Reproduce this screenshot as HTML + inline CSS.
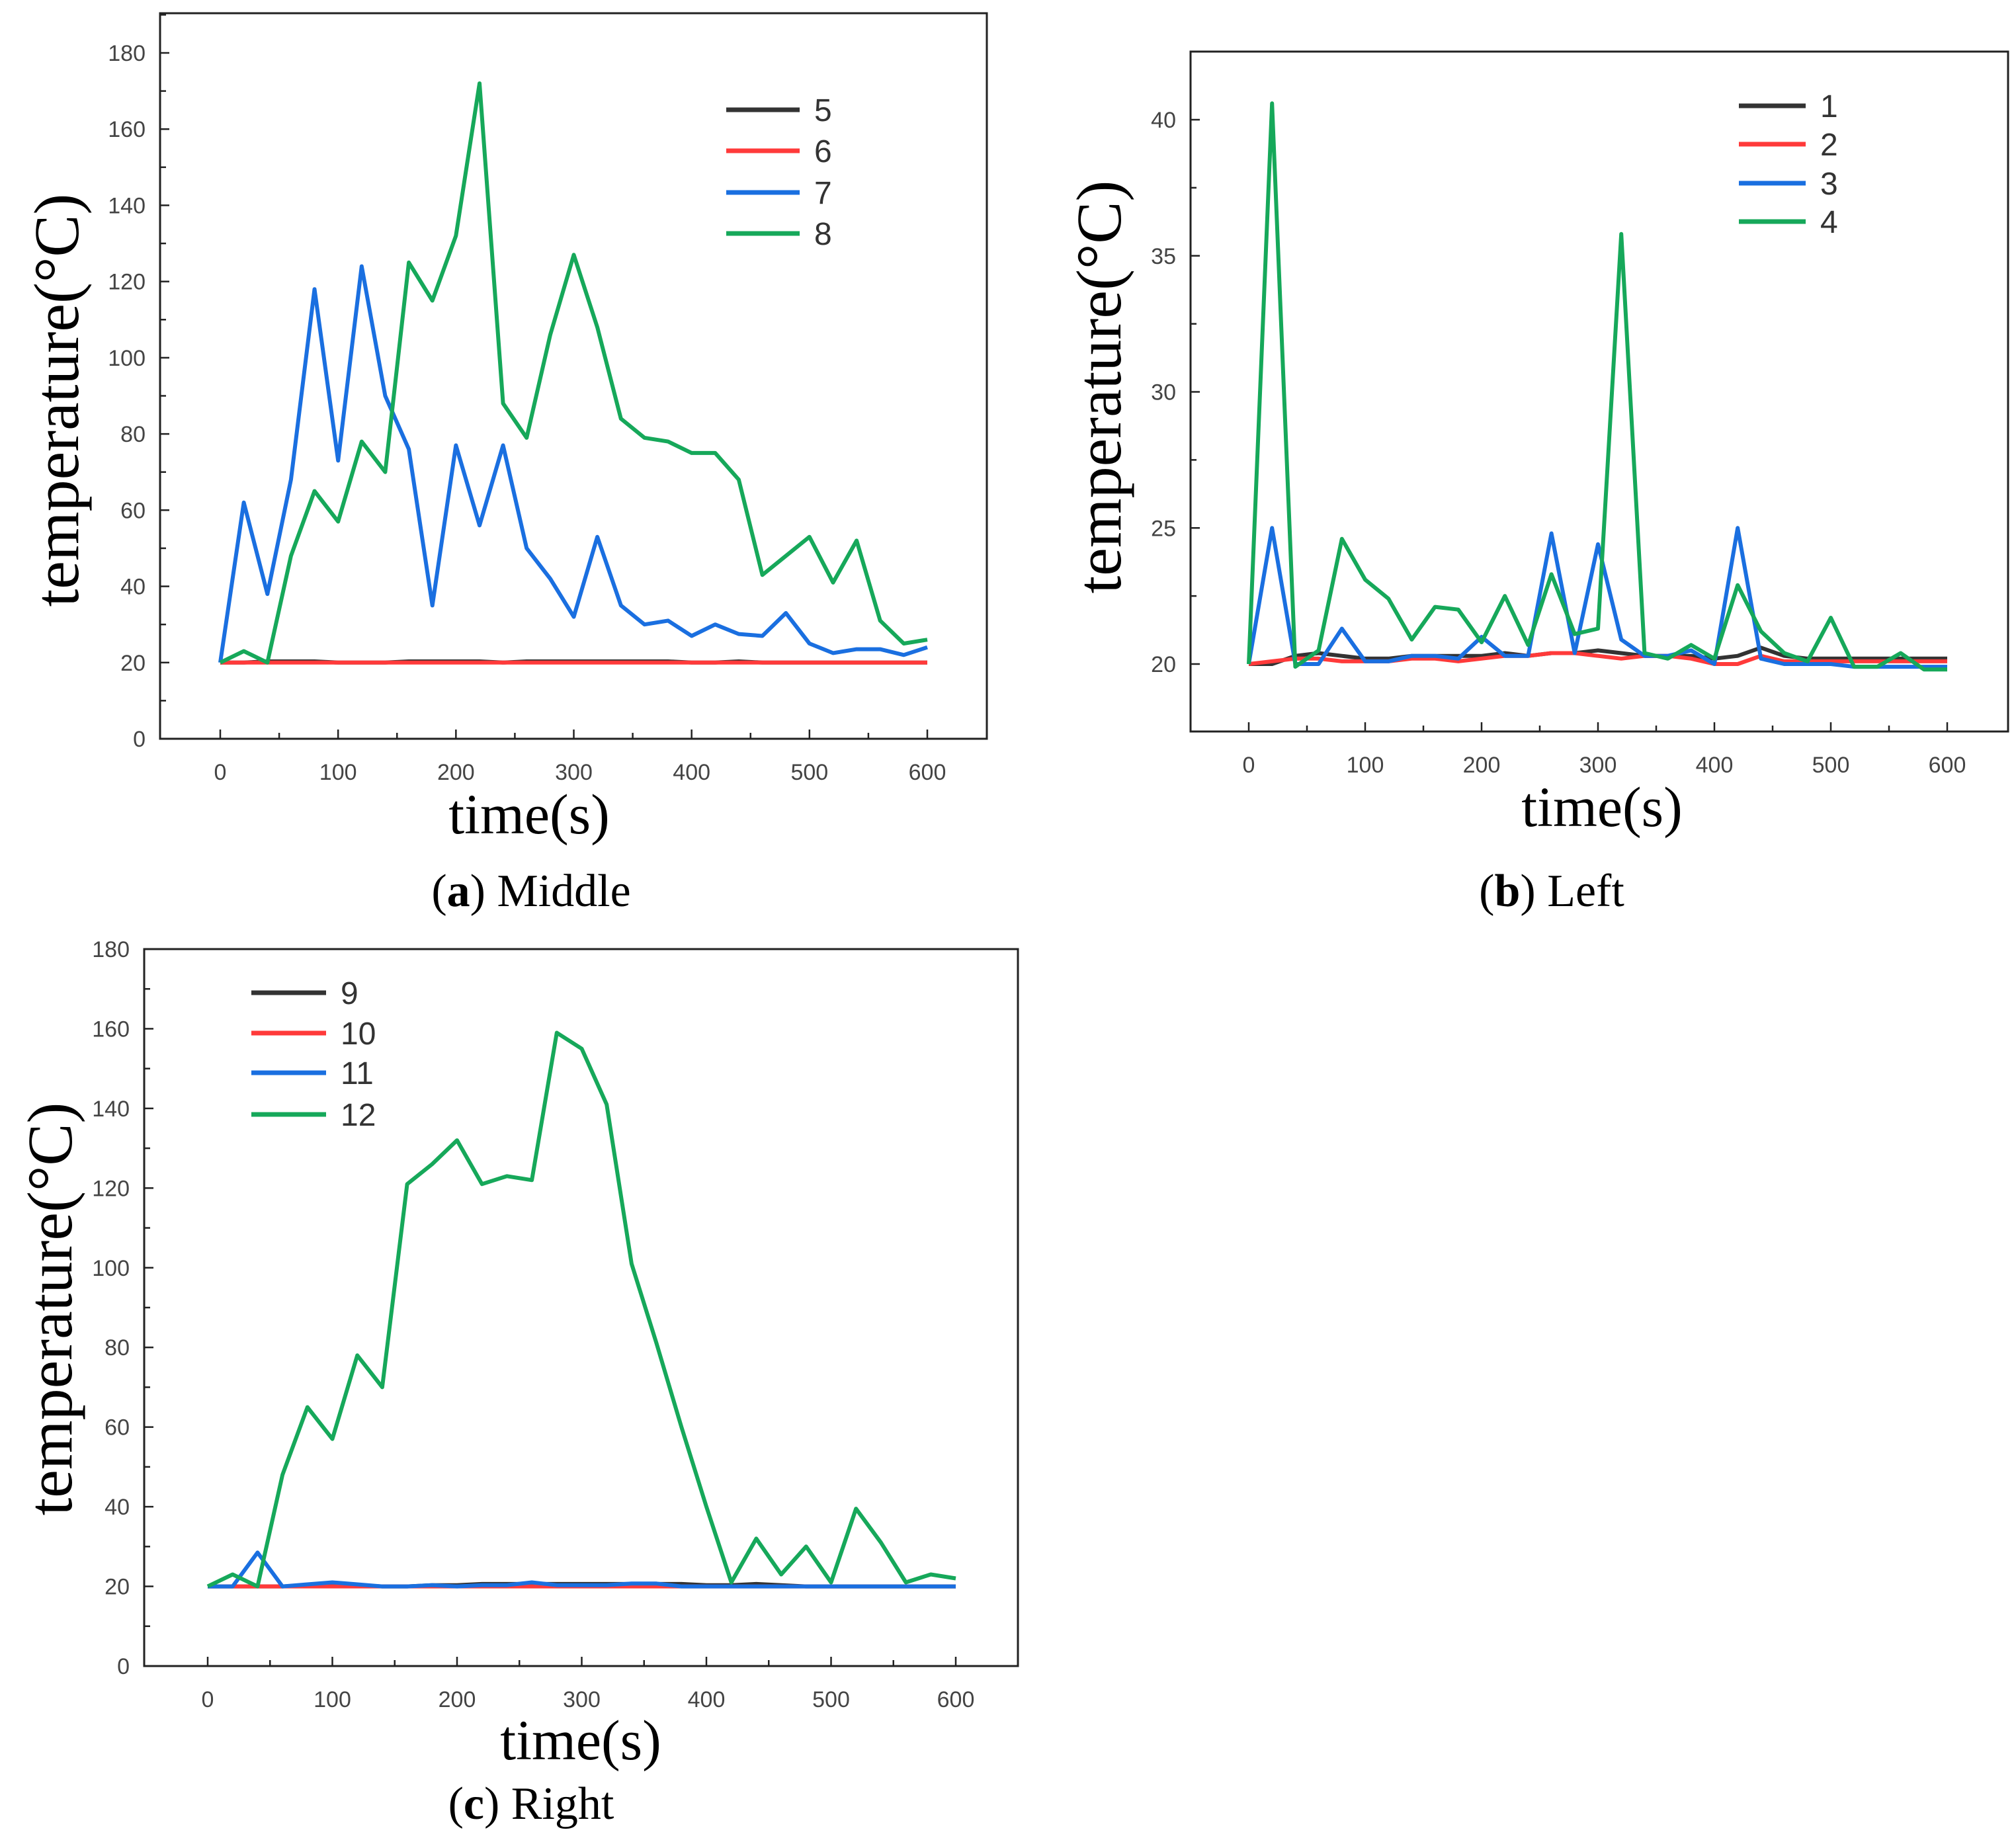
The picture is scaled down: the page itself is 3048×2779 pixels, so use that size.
<!DOCTYPE html>
<html><head><meta charset="utf-8">
<style>
html,body{margin:0;padding:0;background:#fff;}
svg{display:block;}
.tick{font-family:"Liberation Sans",sans-serif;font-size:34px;fill:#444;}
.title{font-family:"Liberation Serif",serif;fill:#000;}
.leg{font-family:"Liberation Sans",sans-serif;font-size:48px;fill:#333;}
</style></head>
<body>
<svg id="fig" width="3048" height="2779" viewBox="0 0 3048 2779" xmlns="http://www.w3.org/2000/svg"></svg>
<script>
const times = [0,20,40,60,80,100,120,140,160,180,200,220,240,260,280,300,320,340,360,380,400,420,440,460,480,500,520,540,560,580,600];
// Panel a (Middle)
const aS5 = [20,20,20.3,20.3,20.3,20,20,20,20.3,20.3,20.3,20.3,20,20.3,20.3,20.3,20.3,20.3,20.3,20.3,20,20,20.3,20,20,20,20,20,20,20,20];
const aS6 = [20,20,20,20,20,20,20,20,20,20,20,20,20,20,20,20,20,20,20,20,20,20,20,20,20,20,20,20,20,20,20];
const aS7 = [20,62,38,68,118,73,124,90,76,35,77,56,77,50,42,32,53,35,30,31,27,30,27.5,27,33,25,22.5,23.5,23.5,22,24];
const aS8 = [20,23,20,48,65,57,78,70,125,115,132,172,88,79,106,127,108,84,79,78,75,75,68,43,48,53,41,52,31,25,26];
// Panel b (Left)
const bS1 = [20,20,20.3,20.4,20.3,20.2,20.2,20.3,20.3,20.3,20.3,20.4,20.3,20.4,20.4,20.5,20.4,20.3,20.3,20.3,20.2,20.3,20.6,20.3,20.2,20.2,20.2,20.2,20.2,20.2,20.2];
const bS2 = [20,20.1,20.2,20.2,20.1,20.1,20.1,20.2,20.2,20.1,20.2,20.3,20.3,20.4,20.4,20.3,20.2,20.3,20.3,20.2,20,20,20.3,20.1,20.1,20.1,20.1,20.1,20.1,20.1,20.1];
const bS3 = [20,25,20,20,21.3,20.1,20.1,20.3,20.3,20.2,21,20.3,20.3,24.8,20.4,24.4,20.9,20.3,20.3,20.5,20,25,20.2,20,20,20,19.9,19.9,19.9,19.9,19.9];
const bS4 = [20,40.6,19.9,20.5,24.6,23.1,22.4,20.9,22.1,22,20.8,22.5,20.7,23.3,21.1,21.3,35.8,20.4,20.2,20.7,20.2,22.9,21.2,20.4,20.1,21.7,19.9,19.9,20.4,19.8,19.8];
// Panel c (Right)
const cS9 = [20,20,20,20,20.3,20.3,20.3,20,20,20.3,20.3,20.6,20.6,20.6,20.6,20.6,20.6,20.6,20.6,20.6,20.3,20.3,20.6,20.3,20,20,20,20,20,20,20];
const cS10 = [20,20,20,20,20,20,20,20,20,20,20,20,20,20,20,20,20,20,20,20,20,20,20,20,20,20,20,20,20,20,20];
const cS11 = [20,20,28.5,20,20.5,21,20.5,20,20,20.3,20,20.3,20.3,21,20.3,20.3,20.3,20.7,20.7,20,20,20,20,20,20,20,20,20,20,20,20];
const cS12 = [20,23,20,48,65,57,78,70,121,126,132,121,123,122,159,155,141,101,81,60,40,21,32,23,30,21,39.5,31,21,23,22];
const xTicks = [0,100,200,300,400,500,600];
const yTicksA = [0,20,40,60,80,100,120,140,160,180];
const yTicksB = [20,25,30,35,40];
const legA = ["5","6","7","8"], legB = ["1","2","3","4"], legC = ["9","10","11","12"];

const COLORS = ["#333333","#ff3a3a","#1a6fe0","#16a85a"];
const NS = "http://www.w3.org/2000/svg";
const svg = document.getElementById('fig');
function mk(tag, attrs, parent){const e=document.createElementNS(NS,tag);for(const k in attrs)e.setAttribute(k,attrs[k]);(parent||svg).appendChild(e);return e;}

function panel(cfg){
  const g = mk('g',{});
  
  
  const X = t => cfg.x0 + (t-0)/600*(cfg.x600-cfg.x0);
  const Y = v => cfg.yb + (v-cfg.ymin)/(cfg.ymax-cfg.ymin)*(cfg.yt-cfg.yb);
  const frame = mk('rect',{x:cfg.L,y:cfg.T,width:cfg.R-cfg.L,height:cfg.B-cfg.T,fill:'none',stroke:'#222','stroke-width':3},g);
  
  
  for(let t=0;t<=600;t+=50){
    const major = t%100===0;
    mk('line',{x1:X(t),x2:X(t),y1:cfg.B,y2:cfg.B-(major?14:9),stroke:'#222','stroke-width':2.5},g);
  }
  xTicks.forEach(t=>{
    const tx = mk('text',{x:X(t),y:cfg.B+62,'text-anchor':'middle',class:'tick'},g);
    tx.textContent = t;
    
    
  });
  const yt = cfg.yTicks;
  const step = yt[1]-yt[0];
  for(let v=yt[0]; v<=yt[yt.length-1]+step/2+0.001; v+=step/2){
    const major = Math.abs(((v-yt[0])/step)-Math.round((v-yt[0])/step))<0.01;
    if(Y(v)<cfg.T-1) continue;
    mk('line',{x1:cfg.L,x2:cfg.L+(major?14:9),y1:Y(v),y2:Y(v),stroke:'#222','stroke-width':2.5},g);
  }
  yt.forEach(v=>{
    const tx = mk('text',{x:cfg.L-22,y:Y(v)+12,'text-anchor':'end',class:'tick'},g);
    tx.textContent = v;
    
    
  });
  cfg.series.forEach((s,i)=>{
    const pts = times.map((t,j)=>X(t).toFixed(1)+','+Y(s[j]).toFixed(1)).join(' ');
    const pl = mk('polyline',{points:pts,fill:'none',stroke:COLORS[i],'stroke-width':6,'stroke-linejoin':'round'},g);
    
    
  });
  cfg.leg.forEach((l,i)=>{
    const y = cfg.legY[i];
    const ln = mk('line',{x1:cfg.legX1,x2:cfg.legX2,y1:y,y2:y,stroke:COLORS[i],'stroke-width':7},g);
    
    
    const tx = mk('text',{x:cfg.legX2+22,y:y+17,class:'leg'},g);
    tx.textContent = l;
    
    
  });
  const yt2 = mk('text',{x:0,y:0,'text-anchor':'middle',class:'title','font-size':96,transform:`translate(${cfg.ytX},${cfg.ytY}) rotate(-90)`},g);
  yt2.textContent = 'temperature(°C)';
  
  
  const xt = mk('text',{x:cfg.xtX,y:cfg.xtY,'text-anchor':'middle',class:'title','font-size':86},g);
  xt.textContent = 'time(s)';
  
  
  const cap = mk('text',{x:cfg.capX,y:cfg.capY,'text-anchor':'middle',class:'title','font-size':70},g);
  cap.innerHTML = '(<tspan font-weight="bold">'+cfg.letter+'</tspan>) '+cfg.cap;
  
  
}

panel({name:'panel-a-middle',L:242,T:20,R:1492,B:1117,x0:333,x600:1402,yb:1117,yt:80,ymin:0,ymax:180,yTicks:yTicksA,
  series:[aS5,aS6,aS7,aS8],leg:legA,legX1:1098,legX2:1209,legY:[166,228,291,353],
  ytX:118,ytY:605,xtX:800,xtY:1260,capX:803,capY:1370,letter:'a',cap:'Middle'});
panel({name:'panel-b-left',L:1800,T:78,R:3036,B:1106,x0:1888,x600:2944,yb:1004,yt:181,ymin:20,ymax:40,yTicks:yTicksB,
  series:[bS1,bS2,bS3,bS4],leg:legB,legX1:2629,legX2:2730,legY:[160,218,277,335],
  ytX:1694,ytY:585,xtX:2422,xtY:1249,capX:2346,capY:1370,letter:'b',cap:'Left'});
panel({name:'panel-c-right',L:218,T:1435,R:1539,B:2519,x0:314,x600:1445,yb:2519,yt:1435,ymin:0,ymax:180,yTicks:yTicksA,
  series:[cS9,cS10,cS11,cS12],leg:legC,legX1:380,legX2:493,legY:[1501,1562,1622,1685],
  ytX:108,ytY:1979,xtX:878,xtY:2660,capX:803,capY:2750,letter:'c',cap:'Right'});
</script>
</body></html>
